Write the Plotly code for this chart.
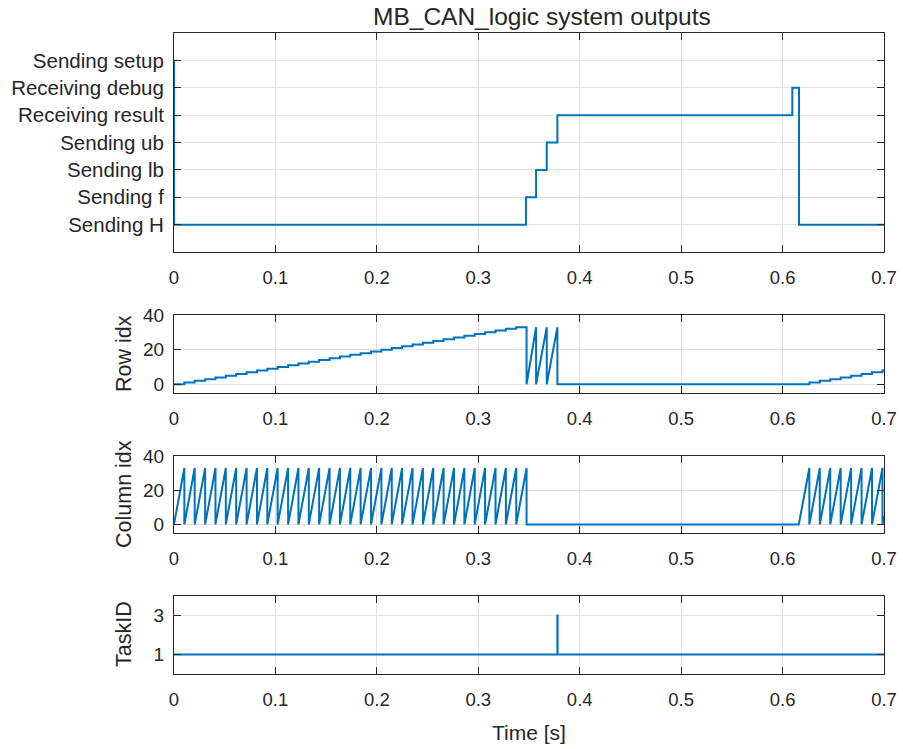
import plotly.graph_objects as go

# ---------------- data ----------------
time_ticks = [0, 0.1, 0.2, 0.3, 0.4, 0.5, 0.6, 0.7]
time_tick_labels = ["0", "0.1", "0.2", "0.3", "0.4", "0.5", "0.6", "0.7"]

state_labels = ["Sending H", "Sending f", "Sending lb", "Sending ub",
                "Receiving result", "Receiving debug", "Sending setup"]
state_times = [0.0, 0.0, 0.347, 0.357, 0.3675, 0.378, 0.6096, 0.6162, 0.7]
state_values = [6, 0, 1, 2, 3, 4, 5, 0, 0]

col_peaks_h1 = [0.0102, 0.0204, 0.0307, 0.0409, 0.0511, 0.0613, 0.0716, 0.0818,
                0.0920, 0.1022, 0.1125, 0.1227, 0.1329, 0.1431, 0.1534, 0.1636,
                0.1738, 0.1840, 0.1943, 0.2045, 0.2147, 0.2249, 0.2352, 0.2454,
                0.2556, 0.2658, 0.2761, 0.2863, 0.2965, 0.3067, 0.3170, 0.3272,
                0.3374, 0.3476]
col_restart_time = 0.616
col_peaks_h2 = [0.6264, 0.6367, 0.6470, 0.6573, 0.6676, 0.6779, 0.6882, 0.6985]
col_peak_value = 33
col_final_value = 5

row_step_times_h1 = col_peaks_h1[:-1]
row_saw_start = 0.3476
row_saw_peaks = [0.357, 0.3675, 0.378]
row_peak_value = 33
row_step_times_h2 = col_peaks_h2

task_times = [0.0, 0.378, 0.3782, 0.7]
task_values = [1, 3, 1, 1]

T_END = 0.7

cx, cy = [0.0], [0]
for p in col_peaks_h1:
    cx += [p, p]; cy += [col_peak_value, 0]
cx.append(col_restart_time); cy.append(0)
for p in col_peaks_h2:
    cx += [p, p]; cy += [col_peak_value, 0]
cx.append(T_END); cy.append(col_final_value)

rx, ry = [0.0], [0]
lvl = 0
for p in row_step_times_h1:
    rx += [p, p]; ry += [lvl, lvl + 1]; lvl += 1
rx += [row_saw_start, row_saw_start]; ry += [lvl, 0]
for p in row_saw_peaks:
    rx += [p, p]; ry += [row_peak_value, 0]
lvl = 0
for p in row_step_times_h2:
    rx += [p, p]; ry += [lvl, lvl + 1]; lvl += 1
rx.append(T_END); ry.append(lvl)

BLUE = "#0072BD"
DARK = "#262626"
GRID = "#E3E3E3"
FONT = "Liberation Sans, Arial, Helvetica, sans-serif"
LW = 2

fig = go.Figure()
fig.add_trace(go.Scatter(x=state_times, y=state_values, mode="lines",
                         line=dict(color=BLUE, width=LW, shape="hv"),
                         xaxis="x", yaxis="y", showlegend=False))
fig.add_trace(go.Scatter(x=rx, y=ry, mode="lines",
                         line=dict(color=BLUE, width=LW),
                         xaxis="x2", yaxis="y2", showlegend=False))
fig.add_trace(go.Scatter(x=cx, y=cy, mode="lines",
                         line=dict(color=BLUE, width=LW),
                         xaxis="x3", yaxis="y3", showlegend=False))
fig.add_trace(go.Scatter(x=task_times, y=task_values, mode="lines",
                         line=dict(color=BLUE, width=LW, shape="hv"),
                         xaxis="x4", yaxis="y4", showlegend=False))

W, H = 903, 749
def fy(px):
    return 1 - px / H

xdom = [174 / W, 884 / W]
panels = [(33, 252), (315, 393), (456, 533), (596, 674)]

common_axis = dict(showline=True, linecolor=DARK, linewidth=1, mirror="ticks",
                   ticks="inside", ticklen=7, tickcolor=DARK, tickwidth=1,
                   showgrid=True, gridcolor=GRID, gridwidth=1, zeroline=False,
                   automargin=False,
                   tickfont=dict(family=FONT, size=18.5, color=DARK))

layout = dict(width=W, height=H, autosize=False,
              margin=dict(l=0, r=0, t=0, b=0, pad=0, autoexpand=False),
              paper_bgcolor="white", plot_bgcolor="white", showlegend=False,
              font=dict(family=FONT, color=DARK))

for i, (top, bot) in enumerate(panels):
    sfx = "" if i == 0 else str(i + 1)
    xa = dict(common_axis, domain=xdom, range=[0, T_END], tickvals=time_ticks,
              ticktext=time_tick_labels, anchor="y" + sfx, ticklabelstandoff=9)
    layout["xaxis" + sfx] = xa
    ya = dict(common_axis, domain=[fy(bot), fy(top)], anchor="x" + sfx,
              ticklabelstandoff=5)
    layout["yaxis" + sfx] = ya

layout["yaxis"].update(range=[-1, 7], tickvals=list(range(len(state_labels))),
                       ticktext=state_labels,
                       tickfont=dict(family=FONT, size=20.5, color=DARK))
layout["yaxis2"].update(range=[-5, 40], tickvals=[0, 20, 40], ticktext=["0", "20", "40"],
                        tickfont=dict(family=FONT, size=19, color=DARK))
layout["yaxis3"].update(range=[-5, 40], tickvals=[0, 20, 40], ticktext=["0", "20", "40"],
                        tickfont=dict(family=FONT, size=19, color=DARK))
layout["yaxis4"].update(range=[0, 4], tickvals=[1, 3], ticktext=["1", "3"],
                        tickfont=dict(family=FONT, size=19, color=DARK))

ann = [
    dict(text="MB_CAN_logic system outputs", x=542 / W, y=fy(16), size=24.5, angle=0),
    dict(text="Row idx", x=124 / W, y=fy(354), size=21.5, angle=-90),
    dict(text="Column idx", x=124 / W, y=fy(494), size=21.5, angle=-90),
    dict(text="TaskID", x=124 / W, y=fy(634), size=21.5, angle=-90),
    dict(text="Time [s]", x=529 / W, y=fy(732), size=21, angle=0),
]
layout["annotations"] = [
    dict(text=a["text"], x=a["x"], y=a["y"], xref="paper", yref="paper",
         xanchor="center", yanchor="middle", showarrow=False, textangle=a["angle"],
         font=dict(family=FONT, size=a["size"], color=DARK))
    for a in ann
]

fig.update_layout(**layout)
fig.write_html("out.html",
               post_script="document.body.style.margin='0px';document.body.style.overflow='hidden';")
